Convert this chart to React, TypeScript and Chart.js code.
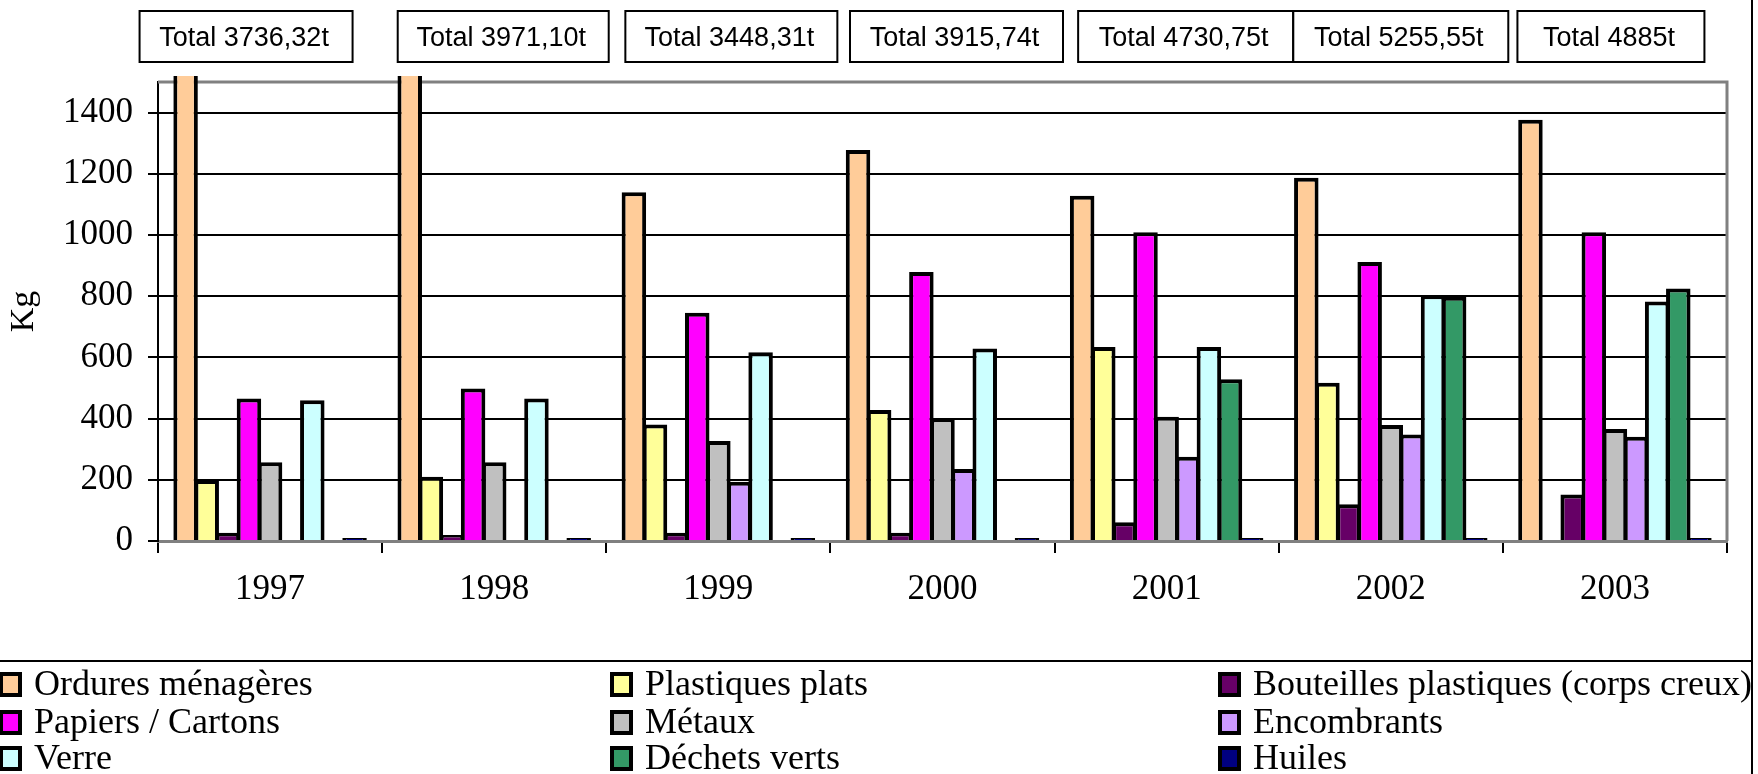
import React, { useEffect, useRef } from 'react';
import { Chart, registerables } from 'chart.js';

Chart.register(...registerables);

const years = ['1997', '1998', '1999', '2000', '2001', '2002', '2003'];
const totals = ['3736,32', '3971,10', '3448,31', '3915,74', '4730,75', '5255,55', '4885'];

const ordures = [2319, 2512, 1140, 1278, 1128, 1187, 1377];
const plastiquesPlats = [199, 210, 381, 428, 634, 517, null];
const bouteilles = [27, 20, 27, 27, 61, 120, 152];
const papiers = [466, 498, 746, 879, 1009, 912, 1009];
const metaux = [257, 257, 327, 401, 406, 379, 366];
const encombrants = [null, null, 194, 235, 275, 348, 341];
const verre = [460, 466, 617, 629, 634, 803, 783];
const dechetsVerts = [null, null, null, null, 529, 798, 825];
const huiles = [10, 10, 10, 10, 10, 10, 10];

const yTicks = [0, 200, 400, 600, 800, 1000, 1200, 1400];

const SERIF = '"Liberation Serif", "Times New Roman", serif';
const SANS = '"Liberation Sans", Arial, sans-serif';

const boxOffsets = [-24, 9, 13, 14, 19, 10, -4];
const boxWidths = [213, 211, 212, 213, 215, 215, 187];

const framePlugin = {
  id: 'framePlugin',
  beforeDatasetsDraw(chart: any) {
    const { ctx, chartArea } = chart;
    ctx.save();
    ctx.strokeStyle = '#808080';
    ctx.lineWidth = 3;
    ctx.beginPath();
    ctx.moveTo(chartArea.left, chartArea.top);
    ctx.lineTo(chartArea.right, chartArea.top);
    ctx.lineTo(chartArea.right, chartArea.bottom);
    ctx.stroke();
    ctx.restore();
  },
  afterDraw(chart: any) {
    const { ctx } = chart;
    ctx.save();
    ctx.strokeStyle = '#000';
    ctx.lineWidth = 2;
    ctx.beginPath();
    ctx.moveTo(0, 661);
    ctx.lineTo(1752, 661);
    ctx.moveTo(1752, 0);
    ctx.lineTo(1752, 774);
    ctx.stroke();

    const cols = [-1, 610, 1218];
    const baselines = [695, 733, 769];
    chart.data.datasets.forEach((ds: any, i: number) => {
      const c = i % 3;
      const r = Math.floor(i / 3);
      const x = cols[c];
      const b = baselines[r];
      ctx.fillStyle = ds.backgroundColor;
      ctx.fillRect(x + 2, b - 21, 19, 21);
      ctx.lineWidth = 4;
      ctx.strokeStyle = '#000';
      ctx.strokeRect(x + 2, b - 21, 19, 21);
      ctx.fillStyle = '#000';
      ctx.font = `36px ${SERIF}`;
      ctx.textAlign = 'left';
      ctx.textBaseline = 'alphabetic';
      ctx.fillText(ds.label, x + 35, b);
    });

    const xs = chart.scales.x;
    totals.forEach((t, i) => {
      const cx = xs.getPixelForValue(i) + boxOffsets[i];
      const w = boxWidths[i];
      ctx.fillStyle = '#fff';
      ctx.fillRect(cx - w / 2, 11, w, 51);
      ctx.lineWidth = 2;
      ctx.strokeStyle = '#000';
      ctx.strokeRect(cx - w / 2, 11, w, 51);
      ctx.fillStyle = '#000';
      ctx.font = `27px ${SANS}`;
      ctx.textAlign = 'center';
      ctx.textBaseline = 'alphabetic';
      ctx.fillText(`Total ${t}t`, cx - 2, 46);
    });
    ctx.restore();
  },
};

export default function App() {
  const ref = useRef<HTMLCanvasElement | null>(null);

  useEffect(() => {
    document.body.style.margin = '0';
    if (!ref.current) return;
    const mk = (label: string, data: any[], color: string) => ({
      label,
      data,
      backgroundColor: color,
      borderColor: '#000',
      borderWidth: 4,
      borderSkipped: 'bottom',
      clip: { left: 0, top: 6, right: 0, bottom: 0 },
    });
    const chart = new Chart(ref.current, {
      type: 'bar',
      data: {
        labels: years,
        datasets: [
          mk('Ordures ménagères', ordures, '#FFCC99'),
          mk('Plastiques plats', plastiquesPlats, '#FFFF99'),
          mk('Bouteilles plastiques (corps creux)', bouteilles, '#660066'),
          mk('Papiers / Cartons', papiers, '#FF00FF'),
          mk('Métaux', metaux, '#C0C0C0'),
          mk('Encombrants', encombrants, '#CC99FF'),
          mk('Verre', verre, '#CCFFFF'),
          mk('Déchets verts', dechetsVerts, '#339966'),
          mk('Huiles', huiles, '#000080'),
        ] as any,
      },
      options: {
        animation: false,
        responsive: false,
        devicePixelRatio: 1,
        layout: { padding: { top: 82, right: 31, bottom: 133, left: 0 } },
        datasets: { bar: { categoryPercentage: 0.848, barPercentage: 1.16 } },
        plugins: {
          legend: { display: false },
          tooltip: { enabled: false },
          title: { display: false },
        },
        scales: {
          x: {
            offset: true,
            grid: {
              offset: true,
              drawOnChartArea: false,
              drawTicks: true,
              tickLength: 12,
              color: '#000',
              lineWidth: 2,
            },
            border: { display: true, color: '#808080', width: 3 },
            ticks: {
              color: '#000',
              font: { family: SERIF, size: 35 },
              padding: 16,
              maxRotation: 0,
            },
            afterFit: (s: any) => {
              s.height = 100;
            },
          },
          y: {
            min: 0,
            max: 1500,
            ticks: {
              stepSize: 200,
              color: '#000',
              font: { family: SERIF, size: 35 },
              padding: 15,
              callback: (v: any) => String(v),
            },
            afterBuildTicks: (s: any) => {
              s.ticks = yTicks.map((v) => ({ value: v }));
            },
            grid: { color: '#000', lineWidth: 2, tickLength: 10 },
            border: { display: true, color: '#000', width: 2 },
            title: {
              display: true,
              text: 'Kg',
              color: '#000',
              font: { family: SERIF, size: 34 },
              padding: { top: 4, bottom: 0 },
            },
            afterFit: (s: any) => {
              s.width = 158;
            },
          },
        },
      } as any,
      plugins: [framePlugin],
    });
    return () => chart.destroy();
  }, []);

  return (
    <div style={{ width: 1758, height: 774, background: '#fff' }}>
      <canvas ref={ref} width={1758} height={774} style={{ display: 'block' }} />
    </div>
  );
}
